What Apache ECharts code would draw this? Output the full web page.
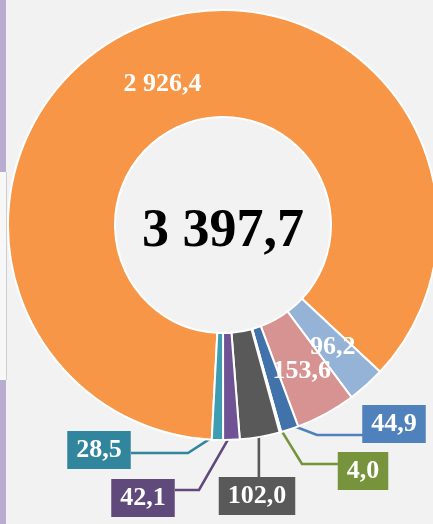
<!DOCTYPE html>
<html>
<head>
<meta charset="utf-8">
<script src="https://cdn.jsdelivr.net/npm/echarts@6/dist/echarts.min.js"></script>
<style>
  html, body { margin: 0; padding: 0; width: 433px; height: 524px; overflow: hidden; background: #f2f2f2; }
  #chart { position: absolute; left: 0; top: 0; width: 433px; height: 524px; }
  .edge { position: absolute; left: 0; width: 6px; background: #b8add0; }
</style>
</head>
<body>
<div class="edge" style="top:0;height:172px"></div>
<div style="position:absolute;left:0;top:172px;width:6px;height:208px;background:#f7f7f7;border-right:1px solid #cfcfcf"></div>
<div class="edge" style="top:380px;height:144px"></div>
<div id="chart"></div>
<script>
// Slice values, in drawing order (clockwise from the bottom)
const values = [2926.4, 96.2, 153.6, 44.9, 4.0, 102.0, 42.1, 28.5];
const sliceColors = ['#f79646', '#95b3d7', '#d69391', '#4272aa', '#77933c', '#595959', '#6f5395', '#3e9cb3'];
const boxColors = [null, null, null, '#4f81bd', '#77933c', '#595959', '#604a7b', '#31859c'];

// Ring geometry (px)
const CX = 223, CY = 225, R_IN = 108, R_OUT = 215, START = -93;

// Nudges for the in-ring labels (px)
const insideShift = { 0: [1, 12], 2: [0, 2] };

// Callout boxes: box centre, leader elbow and leader end (px)
const callouts = {
  3: { box: [394, 424], elbow: [317, 435], end: [363, 435] },
  4: { box: [363, 471], elbow: [302, 464], end: [338, 464] },
  5: { box: [257, 496], elbow: null,       end: [null, 477] },
  6: { box: [143, 498], elbow: [199, 490], end: [175, 490] },
  7: { box: [99, 450],  elbow: [188, 453], end: [131, 453] }
};

const FONT = '"Liberation Serif", "Times New Roman", serif';

function fmt(v) {
  const parts = v.toFixed(1).split('.');
  return parts[0].replace(/\B(?=(\d{3})+(?!\d))/g, ' ') + ',' + parts[1];
}

const total = values.reduce((a, b) => a + b, 0);

function anchorOf(i) {
  let before = 0;
  for (let k = 0; k < i; k++) before += values[k];
  const mid = (START - (before + values[i] / 2) / total * 360) * Math.PI / 180;
  const r = R_OUT - 6;
  return [CX + r * Math.cos(mid), CY - r * Math.sin(mid)];
}

const data = values.map((v, i) => {
  const boxed = boxColors[i] != null;
  return {
    value: v,
    itemStyle: { color: sliceColors[i] },
    label: boxed ? {
      position: 'outside',
      backgroundColor: boxColors[i],
      padding: [6, 9, 5, 9],
      lineHeight: 27
    } : { position: 'inside' },
    labelLine: boxed ? {
      show: true,
      lineStyle: { color: boxColors[i], width: 2.6 }
    } : { show: false }
  };
});

const chart = echarts.init(document.getElementById('chart'), null, { renderer: 'canvas' });
chart.setOption({
  backgroundColor: 'transparent',
  animation: false,
  graphic: [{
    type: 'text',
    x: CX,
    y: CY + 7,
    style: {
      text: fmt(total),
      font: 'bold 54px ' + FONT,
      fill: '#000',
      textAlign: 'center',
      textVerticalAlign: 'middle',
      shadowColor: 'rgba(0,0,0,0.45)',
      shadowBlur: 4,
      shadowOffsetX: 3,
      shadowOffsetY: 3
    }
  }],
  series: [{
    type: 'pie',
    center: [CX, CY],
    radius: [R_IN, R_OUT],
    startAngle: START,
    clockwise: true,
    avoidLabelOverlap: false,
    itemStyle: { borderColor: '#ffffff', borderWidth: 2 },
    label: {
      show: true,
      formatter: p => fmt(p.value),
      color: '#ffffff',
      fontFamily: FONT,
      fontWeight: 'bold',
      fontSize: 26
    },
    labelLayout: function (params) {
      const shift = insideShift[params.dataIndex];
      if (shift) return { dx: shift[0], dy: shift[1] };
      const c = callouts[params.dataIndex];
      if (!c) return {};
      const a = anchorOf(params.dataIndex);
      const pts = [a];
      if (c.elbow) pts.push(c.elbow);
      pts.push([c.end[0] == null ? a[0] : c.end[0], c.end[1]]);
      return {
        x: c.box[0],
        y: c.box[1],
        align: 'center',
        verticalAlign: 'middle',
        labelLinePoints: pts
      };
    },
    data: data
  }]
});
</script>
</body>
</html>
